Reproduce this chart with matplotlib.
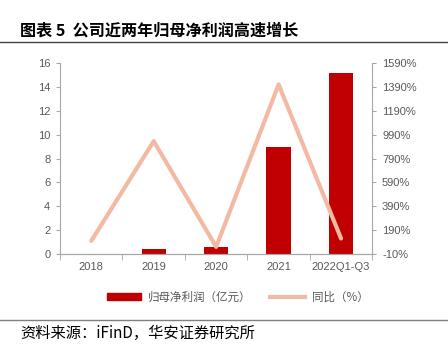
import matplotlib
matplotlib.use('Agg')
import matplotlib.pyplot as plt
from matplotlib.lines import Line2D
from matplotlib.patches import Patch
import numpy as np

plt.rcParams['font.family'] = ['Liberation Sans', 'Noto Sans CJK SC']

# net profit attributable to parent (100m yuan) and YoY growth (%)
years = ['2018', '2019', '2020', '2021', '2022Q1-Q3']
profit = [0.0, 0.42, 0.58, 8.96, 15.2]
yoy = [100, 935, 50, 1410, 120]
left_ticks = [0, 2, 4, 6, 8, 10, 12, 14, 16]
right_ticks = [-10, 190, 390, 590, 790, 990, 1190, 1390, 1590]

grey = '#595959'
spine = '#A6A6A6'

fig = plt.figure(figsize=(4.48, 3.48), dpi=100)
ax = fig.add_axes([0.134, 0.270, 0.697, 0.549])
ax2 = ax.twinx()

x = np.arange(len(years))
ax.bar(x, profit, width=0.39, color='#C00000', zorder=2)
ax2.plot(x, yoy, color='#F4B9A2', lw=3, solid_capstyle='round', zorder=3)

ax.set_xlim(-0.5, len(years) - 0.5)
ax.set_ylim(0, 16)
ax.set_yticks(left_ticks)
ax2.set_ylim(-10, 1590)
ax2.set_yticks(right_ticks)
ax2.set_yticklabels([f'{v}%' for v in right_ticks])

ax.set_xticks(x)
ax.set_xticklabels(years)
ax.set_xticks(np.arange(-0.5, len(years)), minor=True)
ax.tick_params(axis='x', which='major', length=0, pad=6)
ax.tick_params(axis='x', which='minor', length=4, color=spine)

for a in (ax, ax2):
    a.tick_params(axis='y', length=3, color=spine, labelsize=8, labelcolor=grey, pad=4)
    a.tick_params(axis='x', labelsize=8, labelcolor=grey)
    a.spines['top'].set_visible(False)
    for s in ('left', 'right', 'bottom'):
        a.spines[s].set_color(spine)
ax.spines['right'].set_visible(False)
ax2.spines['left'].set_visible(False)

handles = [Patch(color='#C00000'), Line2D([], [], color='#F4B9A2', lw=3)]
labels = ['归母净利润（亿元）', '同比（%）']
fig.legend(handles, labels, loc='center', bbox_to_anchor=(0.53, 0.146), ncol=2,
           frameon=False, labelcolor=grey, handlelength=3.0,
           handleheight=0.5, handletextpad=0.6, columnspacing=1.6,
           prop={'family': ['Noto Sans CJK SC'], 'size': 8.3})

fig.text(0.045, 0.913, '图表 5  公司近两年归母净利润高速增长', fontsize=11.6, fontweight='bold',
         family=['Noto Sans CJK SC'], va='center')
fig.add_artist(Line2D([0, 1], [0.878, 0.878], color='#404040', lw=1))
fig.add_artist(Line2D([0, 1], [0.080, 0.080], color='#808080', lw=1))
fig.text(0.045, 0.042, '资料来源：iFinD，华安证券研究所', fontsize=11,
         family=['Noto Sans CJK SC'], va='center')

fig.savefig('out.png', dpi=100)
